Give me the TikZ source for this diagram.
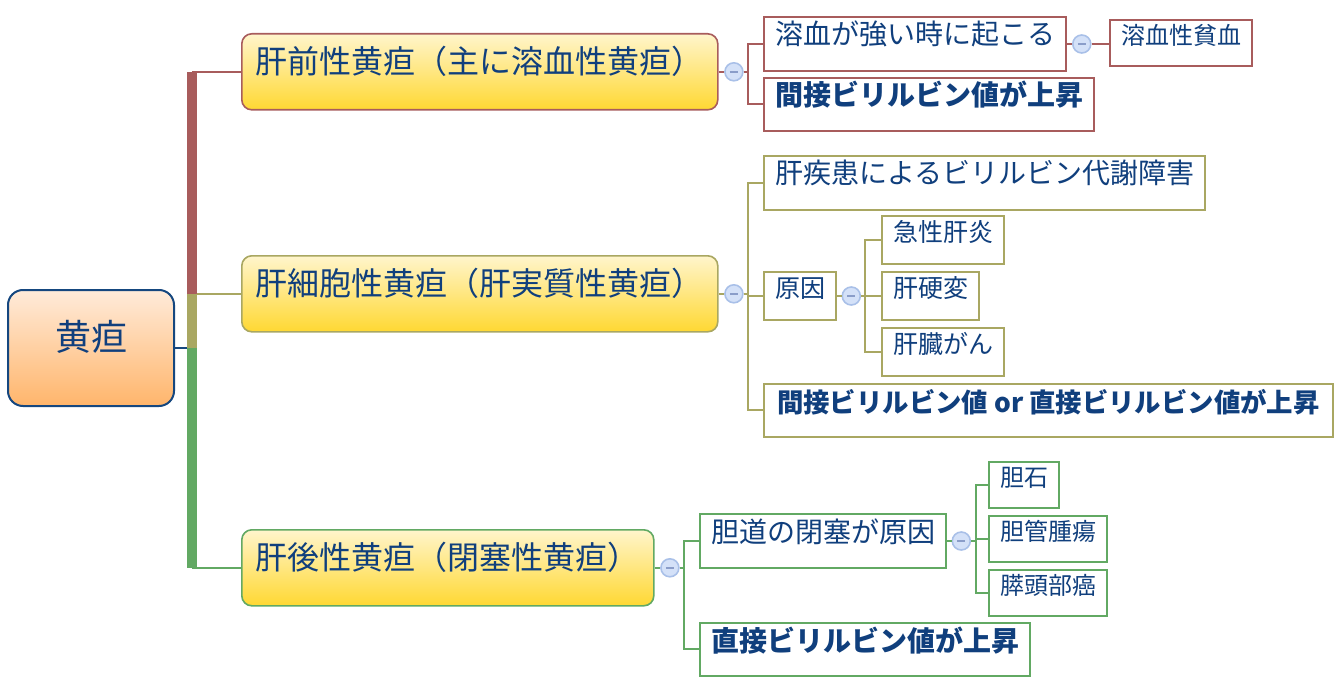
\documentclass[tikz,border=0pt]{standalone}
\usepackage{fontspec}
\setmainfont{Noto Sans CJK JP}
\usetikzlibrary{positioning}

\definecolor{txtblue}{HTML}{103F7D}
\definecolor{rootline}{HTML}{15477F}
\definecolor{rootlight}{HTML}{FFEBDA}
\definecolor{rootdark}{HTML}{FFB56B}
\definecolor{topiclight}{HTML}{FFF5CC}
\definecolor{topicdark}{HTML}{FFD832}
\definecolor{branchred}{HTML}{A85C5C}
\definecolor{brancholive}{HTML}{A9A762}
\definecolor{branchgreen}{HTML}{62A963}
\definecolor{foldfill}{HTML}{D4E1F8}
\definecolor{foldline}{HTML}{A9C0E8}
\definecolor{foldminus}{HTML}{8A9DC9}

\begin{document}
\begin{tikzpicture}[x=0.5pt, y=-0.5pt,
  root/.style={draw=rootline, line width=1pt, rounded corners=7.5pt,
    top color=rootlight, bottom color=rootdark, text=txtblue,
    font=\fontsize{18pt}{20pt}\selectfont, anchor=north west,
    minimum width=83pt, minimum height=58pt, text height=8.8pt, text depth=6.5pt},
  topic/.style={draw=#1, line width=0.8pt, rounded corners=5pt,
    top color=topiclight, bottom color=topicdark, text=txtblue,
    font=\fontsize{16pt}{19pt}\selectfont, anchor=north west,
    inner xsep=7pt, inner ysep=0pt, text height=20pt, text depth=18pt},
  leaf/.style={draw=#1, line width=1pt, fill=white, text=txtblue, anchor=north west,
    inner xsep=5.5pt, inner ysep=0pt},
  big/.style={font=\fontsize{14pt}{17pt}\selectfont, text height=14pt, text depth=13pt},
  bold/.style={font=\fontsize{14pt}{17pt}\selectfont\bfseries, text height=14pt, text depth=12.3pt},
  mid/.style={font=\fontsize{12.5pt}{15pt}\selectfont, text height=12.6pt, text depth=11.4pt},
  small/.style={font=\fontsize{12pt}{14pt}\selectfont, text height=12.2pt, text depth=10.8pt},
  fold/.style={circle, draw=foldline, line width=0.8pt, fill=foldfill,
    minimum size=9pt, inner sep=0pt,
    path picture={\draw[foldminus, line width=0.8pt]
      ([xshift=-2pt]path picture bounding box.center) --
      ([xshift=2pt]path picture bounding box.center);}},
  link/.style={draw=#1, line width=1pt},
]
  \useasboundingbox (0,0) rectangle (1340,690);

  % --- 1. 中心トピック ---
  \node[root] (root) at (7,289) {黄疸};
  \coordinate (spine) at (192,0);

  % --- 2. 主トピック ---
  \node[topic=branchred]   (pre)  at (241,33)  {肝前性黄疸（主に溶血性黄疸）};
  \node[topic=brancholive] (hep)  at (241,255) {肝細胞性黄疸（肝実質性黄疸）};
  \node[topic=branchgreen] (post) at (241,529) {肝後性黄疸（閉塞性黄疸）};

  \draw[link=rootline] (root.east) -- (root.east -| spine);
  \draw[link=branchred]   (spine |- pre.west)  -- (pre.west);
  \draw[link=brancholive] (spine |- hep.west)  -- (hep.west);
  \draw[link=branchgreen] (spine |- post.west) -- (post.west);

  % 太い幹 (3色)
  \draw[branchred,   line width=5pt] (spine |- pre.west) -- (spine |- hep.west);
  \draw[brancholive, line width=5pt] (spine |- hep.west) -- (spine |- root.east);
  \draw[branchgreen, line width=5pt] (spine |- root.east) -- (spine |- post.west);

  % --- 3. 肝前性 ---
  \node[fold, right=2.75pt of pre] (fpre) {};
  \node[leaf=branchred, big]  (hemo)   at (763,16)  {溶血が強い時に起こる};
  \node[leaf=branchred, bold] (indir)  at (763,77)  {間接ビリルビン値が上昇};
  \node[fold, right=2.5pt of hemo] (fhemo) {};
  \node[leaf=branchred, small] (anemia) at (1109,19) {溶血性貧血};

  \draw[link=branchred] (pre.east) -- (fpre.west);
  \draw[link=branchred] (fpre.east) -- ++(4,0) |- (hemo.west);
  \draw[link=branchred] (fpre.east) -- ++(4,0) |- (indir.west);
  \draw[link=branchred] (hemo.east) -- (fhemo.west);
  \draw[link=branchred] (fhemo.east) -- (fhemo.east -| anemia.west);

  % --- 4. 肝細胞性 ---
  \node[fold, right=2.75pt of hep] (fhep) {};
  \node[leaf=brancholive, big]  (metab)  at (763,155) {肝疾患によるビリルビン代謝障害};
  \node[leaf=brancholive, mid]  (cause)  at (763,271) {原因};
  \node[leaf=brancholive, bold, font=\fontsize{13.2pt}{16pt}\selectfont\bfseries, inner xsep=6.5pt]
    (either) at (763,383) {間接ビリルビン値 or 直接ビリルビン値が上昇};
  \node[fold, right=2.25pt of cause] (fcause) {};
  \node[leaf=brancholive, mid] (acute)   at (881,215) {急性肝炎};
  \node[leaf=brancholive, mid] (cirr)    at (881,271) {肝硬変};
  \node[leaf=brancholive, mid] (liverca) at (881,327) {肝臓がん};

  \draw[link=brancholive] (hep.east) -- (fhep.west);
  \foreach \kid in {metab, cause, either}
    \draw[link=brancholive] (fhep.east) -- ++(4,0) |- (\kid.west);
  \draw[link=brancholive] (cause.east) -- (fcause.west);
  \foreach \kid in {acute, cirr, liverca}
    \draw[link=brancholive] (fcause.east) -- ++(4,0) |- (\kid.west);

  % --- 5. 肝後性 ---
  \node[fold, right=2.75pt of post] (fpost) {};
  \node[leaf=branchgreen, big]  (obstr)  at (699,513) {胆道の閉塞が原因};
  \node[leaf=branchgreen, bold] (direct) at (699,622) {直接ビリルビン値が上昇};
  \node[fold, right=2.25pt of obstr] (fobstr) {};
  \node[leaf=branchgreen, small] (stone)  at (988,461) {胆石};
  \node[leaf=branchgreen, small] (ductca) at (988,515) {胆管腫瘍};
  \node[leaf=branchgreen, small] (pancca) at (988,569) {膵頭部癌};

  \draw[link=branchgreen] (post.east) -- (fpost.west);
  \foreach \kid in {obstr, direct}
    \draw[link=branchgreen] (fpost.east) -- ++(4,0) |- (\kid.west);
  \draw[link=branchgreen] (obstr.east) -- (fobstr.west);
  \foreach \kid in {stone, ductca, pancca}
    \draw[link=branchgreen] (fobstr.east) -- ++(5,0) |- (\kid.west);

\end{tikzpicture}
\end{document}
